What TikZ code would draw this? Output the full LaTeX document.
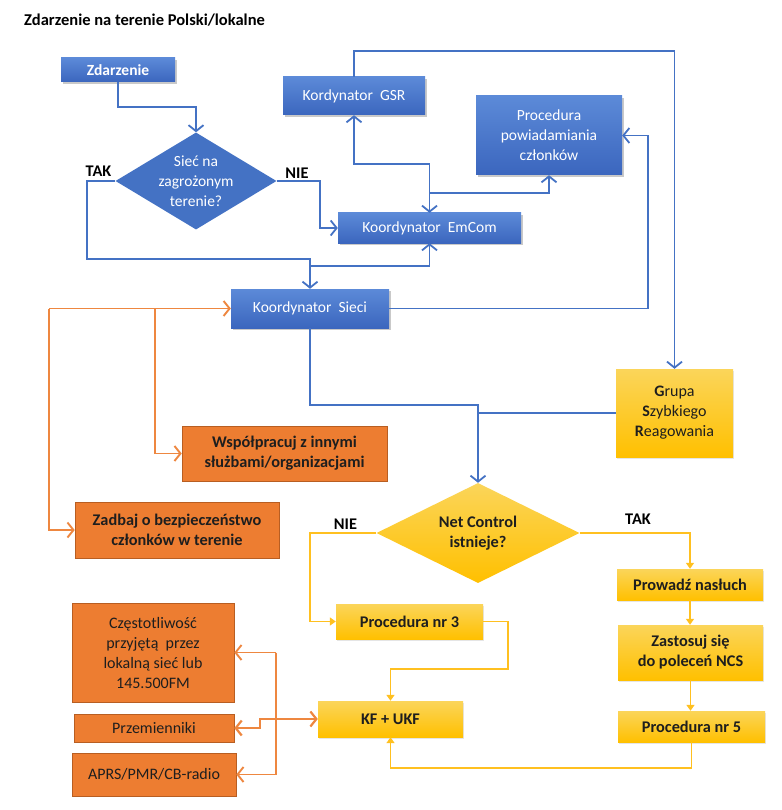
\documentclass[tikz,border=0pt]{standalone}
\usepackage{fontspec}
\setmainfont{Carlito}
\usetikzlibrary{shapes.geometric,arrows.meta,shadows}
\definecolor{blueline}{HTML}{4472C4}
\definecolor{blueT}{HTML}{5C8AD8}
\definecolor{blueB}{HTML}{3B66BE}
\definecolor{diaBlue}{HTML}{4472C4}
\definecolor{yelT}{HTML}{FBD55A}
\definecolor{yelB}{HTML}{FFC000}
\definecolor{yelLine}{HTML}{FFC020}
\definecolor{orFill}{HTML}{ED7D31}
\definecolor{orLine}{HTML}{EE8740}
\definecolor{orBorder}{HTML}{B85E22}
\definecolor{darktext}{HTML}{1E1E1E}
\tikzset{
  fnt/.style={font=\fontsize{15.5}{20}\selectfont},
  fntb/.style={font=\fontsize{16.3}{20}\selectfont\bfseries},
  fnto/.style={font=\fontsize{16}{20}\selectfont},
  bbox/.style={fnt, inner sep=0pt, top color=blueT, bottom color=blueB, text=white, align=center,
    drop shadow={opacity=0.35, shadow xshift=1.5pt, shadow yshift=-2pt, fill=black!60}},
  ybox/.style={fntb, inner sep=0pt, top color=yelT, bottom color=yelB, text=darktext, align=center,
    drop shadow={opacity=0.2, shadow xshift=1pt, shadow yshift=-1.5pt, fill=black!50}},
  obox/.style={fntb, inner sep=0pt, fill=orFill, draw=orBorder, line width=0.6pt, text=darktext, align=center},
  bline/.style={draw=blueline, line width=1.8pt, -{Straight Barb[length=6pt,width=15pt]}},
  yline/.style={draw=yelLine, line width=1.8pt, -{Triangle[length=6pt,width=8pt]}},
  oline/.style={draw=orLine, line width=1.9pt, -{Straight Barb[length=6pt,width=15pt]}},
  lbl/.style={fntb, text=black, inner sep=0pt},
}
\begin{document}
\begin{tikzpicture}[x=1pt,y=-1pt]
\useasboundingbox[fill=white] (0,0) rectangle (781,810);

\node[lbl, font=\fontsize{16.5}{20}\selectfont\bfseries, anchor=west] (title) at (24,20) {Zdarzenie na terenie Polski/lokalne};

% blue nodes
\node[bbox, font=\fontsize{15.5}{20}\selectfont\bfseries, minimum width=114pt, minimum height=24pt] (zd) at (118,70) {Zdarzenie};
\node[fnt, diamond, aspect=1.66, fill=diaBlue, text=white, inner sep=0pt, align=center, minimum width=161pt, minimum height=97pt] (d1) at (196,181) {Sieć na\\zagrożonym\\terenie?};
\node[bbox, minimum width=142pt, minimum height=38pt] (gsr) at (354,96) {Kordynator\ \ GSR};
\node[bbox, minimum width=183pt, minimum height=30pt] (emc) at (429.5,228) {Koordynator\ \ EmCom};
\node[bbox, minimum width=146pt, minimum height=79pt] (proc) at (549,135.5) {Procedura\\powiadamiania\\członków};
\node[bbox, minimum width=158pt, minimum height=39pt] (sieci) at (310,308.5) {Koordynator\ \ Sieci};

% yellow nodes
\node[ybox, fnto, minimum width=117pt, minimum height=88pt] (grupa) at (674.5,413) {\textbf{G}rupa\\\textbf{S}zybkiego\\\textbf{R}eagowania};
\node[fntb, diamond, aspect=2, top color=yelT, bottom color=yelB, text=darktext, inner sep=0pt, align=center, minimum width=203pt, minimum height=100pt] (d2) at (478,533) {Net Control\\istnieje?};
\node[ybox, minimum width=146pt, minimum height=31pt] (prow) at (690,584.5) {Prowadź nasłuch};
\node[ybox, minimum width=145pt, minimum height=55pt] (zast) at (690.5,652.5) {Zastosuj się\\do poleceń NCS};
\node[ybox, minimum width=147pt, minimum height=31pt] (p5) at (691.5,726.5) {Procedura nr 5};
\node[ybox, minimum width=147pt, minimum height=35pt] (p3) at (409.5,621.5) {Procedura nr 3};
\node[ybox, minimum width=145pt, minimum height=36pt] (kf) at (390.5,719) {KF + UKF};

% orange nodes
\node[obox, minimum width=205pt, minimum height=55pt] (wsp) at (284.5,453.5) {Współpracuj z innymi\\służbami/organizacjami};
\node[obox, minimum width=204pt, minimum height=56pt] (zad) at (177,530) {Zadbaj o bezpieczeństwo\\członków w terenie};
\node[obox, fnto, minimum width=162pt, minimum height=99pt] (czest) at (153,652.5) {Częstotliwość\\przyjętą\ \ przez\\lokalną sieć lub\\145.500FM};
\node[obox, fnto, minimum width=160pt, minimum height=28pt] (prz) at (154,728) {Przemienniki};
\node[obox, fnto, minimum width=164pt, minimum height=43pt] (aprs) at (154,774.5) {APRS/PMR/CB-radio};

% labels
\node[lbl] (tak1) at (98.5,171) {TAK};
\node[lbl] (nie1) at (297,173) {NIE};
\node[lbl] (nie2) at (345.5,524) {NIE};
\node[lbl] (tak2) at (638,519) {TAK};

% junction coordinates
\coordinate (br) at (310,266);
\coordinate (br2) at (429.5,193);
\coordinate (oj1) at (49,308.5);
\coordinate (oj2) at (155,308.5);
\coordinate (oj3) at (276,652.5);

% blue connectors
\draw[bline] (zd.south) -- ++(0,25) -| (d1.north);
\draw[bline] (d1.west) -- ++(-28,0) -- ++(0,78) -| (sieci.north);
\draw[bline] (br) -| (emc.south);
\draw[bline] (d1.east) -- ++(43,0) |- (emc.west);
\draw[bline, {Straight Barb[length=6pt,width=15pt]}-{Straight Barb[length=6pt,width=15pt]}] (gsr.south) -- ++(0,49) -| (emc.north);
\draw[bline] (br2) -| (proc.south);
\draw[bline] (gsr.north) -- ++(0,-26) -| (grupa.north);
\draw[bline] (sieci.east) -- ++(259,0) |- (proc.east);
\draw[bline] (sieci.south) -- ++(0,77) -| (d2.north);
\draw[draw=blueline, line width=1.8pt] (grupa.west) -- (grupa.west -| d2.north);

% yellow connectors
\draw[yline] (d2.west) -- ++(-66,0) |- (p3.west);
\draw[yline] (d2.east) -| (prow.north);
\draw[yline] (prow.south) -- (prow.south |- zast.north);
\draw[yline] (zast.south) -- (zast.south |- p5.north);
\draw[yline] (p3.east) -- ++(25,0) -- ++(0,47.5) -| (kf.north);
\draw[yline] (p5.south) -- ++(0,26) -| (kf.south);

% orange connectors
\draw[oline] (oj1) -- (sieci.west);
\draw[oline] (oj1) |- (zad.west);
\draw[oline] (oj2) |- (wsp.west);
\draw[oline] (oj3) -- (czest.east);
\draw[oline] (oj3) |- (aprs.east);
\draw[oline, line width=2.2pt, {Straight Barb[length=6pt,width=15pt]}-{Straight Barb[length=6pt,width=15pt]}] (prz.east) -- ++(26,0) |- (kf.west);
\end{tikzpicture}
\end{document}
